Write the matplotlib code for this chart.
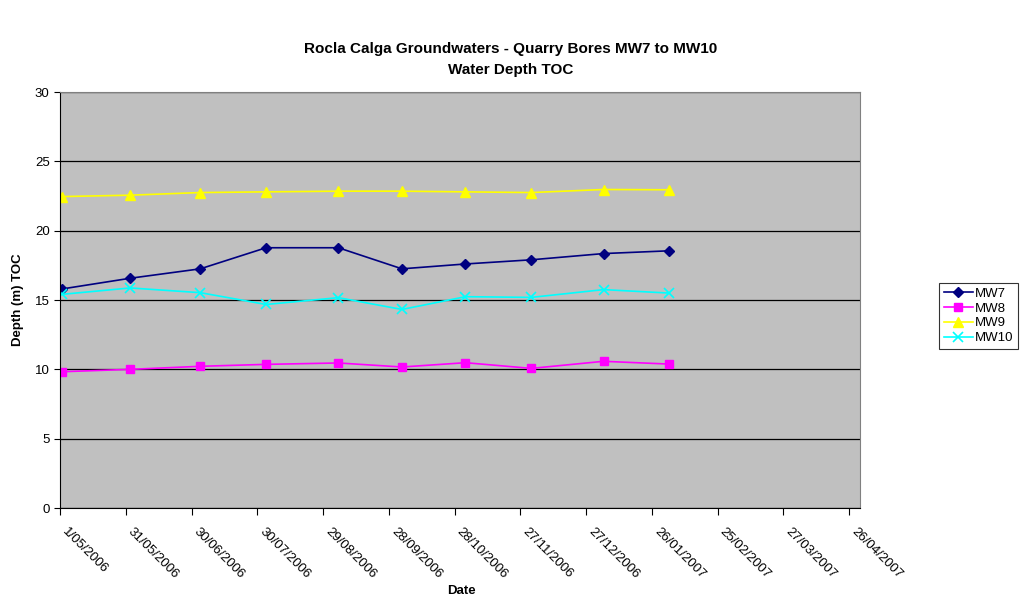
import pandas as pd
import matplotlib.pyplot as plt

plt.rcParams['font.family'] = ['Liberation Sans', 'DejaVu Sans']

# Sampling dates and water depths (m below top of casing)
dates = pd.to_datetime(['2006-05-02', '2006-06-02', '2006-07-04', '2006-08-03',
                        '2006-09-05', '2006-10-04', '2006-11-02', '2006-12-02',
                        '2007-01-04', '2007-02-03'])
mw7 = [15.80, 16.57, 17.25, 18.77, 18.77, 17.25, 17.60, 17.90, 18.35, 18.55]
mw8 = [9.83, 10.00, 10.22, 10.36, 10.46, 10.17, 10.48, 10.07, 10.58, 10.38]
mw9 = [22.46, 22.56, 22.75, 22.80, 22.85, 22.85, 22.80, 22.75, 22.97, 22.95]
mw10 = [15.41, 15.87, 15.53, 14.68, 15.17, 14.32, 15.24, 15.19, 15.75, 15.50]

# Tick dates every 30 days from 1 May 2006
tick_dates = pd.date_range('2006-05-01', periods=13, freq='30D')
tick_labels = [f'{d.day}/{d.month:02d}/{d.year}' for d in tick_dates]

fig = plt.figure(figsize=(10.21, 6.03), dpi=100)
ax = fig.add_axes([0.0588, 0.1575, 0.7835, 0.6899])
ax.set_facecolor('#C0C0C0')

ax.plot(dates, mw7, color='#000080', marker='D', markersize=5, lw=1.2, label='MW7')
ax.plot(dates, mw8, color='#FF00FF', marker='s', markersize=6, lw=1.2, label='MW8')
ax.plot(dates, mw9, color='#FFFF00', marker='^', markersize=7, lw=1.2, label='MW9')
ax.plot(dates, mw10, color='#00FFFF', marker='x', markersize=7, mew=1.2, lw=1.2, label='MW10')

ax.set_ylim(0, 30)
ax.set_yticks(range(0, 31, 5))
ax.set_xlim(pd.Timestamp('2006-05-01'), pd.Timestamp('2007-05-01'))
ax.set_xticks(tick_dates)
ax.set_xticklabels(tick_labels, rotation=-45, ha='left', va='top', fontsize=9.5)
ax.tick_params(axis='y', labelsize=9.5, length=4, direction='out')
ax.tick_params(axis='x', length=5, direction='out', pad=8)

ax.yaxis.grid(True, color='black', lw=0.9)
ax.set_axisbelow(True)
for side in ['top', 'right']:
    ax.spines[side].set_color('#808080')
ax.spines['left'].set_color('black')
ax.spines['bottom'].set_color('black')

ax.set_ylabel('Depth (m) TOC', fontsize=9.5, fontweight='bold', labelpad=8)
fig.text(0.452, 0.010, 'Date', fontsize=9.5, fontweight='bold', ha='center', va='bottom')
fig.suptitle('Rocla Calga Groundwaters - Quarry Bores MW7 to MW10\nWater Depth TOC',
             fontsize=11, fontweight='bold', x=0.5, y=0.93, linespacing=1.6)

leg = fig.legend(loc='upper left', bbox_to_anchor=(0.92, 0.531), fontsize=9.5,
                 frameon=True, fancybox=False, edgecolor='black', borderpad=0.35,
                 labelspacing=0.2, handlelength=2.2, handletextpad=0.15,
                 borderaxespad=0)
leg.get_frame().set_linewidth(0.8)

fig.savefig('out.png', dpi=100)
